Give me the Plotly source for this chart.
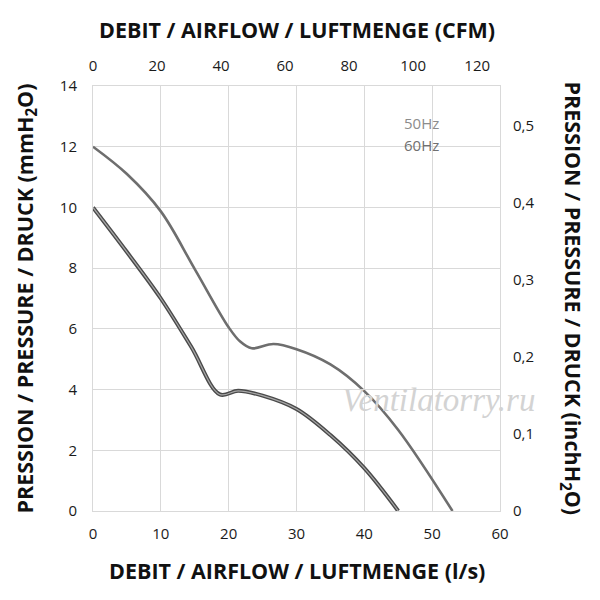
import plotly.graph_objects as go

# airflow in l/s, pressure in mmH2O
flow_50hz = [0, 5, 10, 14.5, 18.7, 21.4, 25, 30, 35, 40, 45]
pres_50hz = [10, 8.53, 7.0, 5.4, 3.84, 3.96, 3.8, 3.36, 2.5, 1.41, 0]

flow_60hz = [0, 5, 10, 15, 20, 21.7, 23.4, 26.6, 30, 35, 40, 45, 53]
pres_60hz = [12, 11.1, 9.87, 7.97, 6.05, 5.58, 5.36, 5.5, 5.33, 4.83, 3.95, 2.67, 0]

flow_ticks = [0, 10, 20, 30, 40, 50, 60]
cfm_ticks = [0, 20, 40, 60, 80, 100, 120]
mm_ticks = [0, 2, 4, 6, 8, 10, 12, 14]
inch_ticks = [0, 0.1, 0.2, 0.3, 0.4, 0.5]

LS_TO_CFM = 2.11888
MM_TO_INCH = 1 / 25.4
X_MAX = 60
Y_MAX = 14

GRID = "#d9d9d9"
TICKFONT = dict(family="Open Sans", size=15, color="#1a1a1a")
TITLEFONT = dict(family="Open Sans", size=21.5, color="#111111")

fig = go.Figure()

# 60Hz curve, single grey line
fig.add_trace(go.Scatter(x=flow_60hz, y=pres_60hz, mode="lines",
                         line=dict(color="#6e6e6e", width=2.6, shape="spline", smoothing=1),
                         hoverinfo="skip"))
# 50Hz curve, drawn as a dark outline with a lighter core
fig.add_trace(go.Scatter(x=flow_50hz, y=pres_50hz, mode="lines",
                         line=dict(color="#4a4a4a", width=4, shape="spline", smoothing=1),
                         hoverinfo="skip"))
fig.add_trace(go.Scatter(x=flow_50hz, y=pres_50hz, mode="lines",
                         line=dict(color="#a8a8a8", width=1.2, shape="spline", smoothing=1),
                         hoverinfo="skip"))

axis_common = dict(showgrid=True, gridcolor=GRID, gridwidth=1, zeroline=False,
                   showline=True, linecolor=GRID, linewidth=1, ticks="",
                   tickfont=TICKFONT)

fig.update_layout(
    width=600, height=600,
    margin=dict(l=85, r=108, t=78, b=97),
    paper_bgcolor="white", plot_bgcolor="white",
    showlegend=False,
    separators=", ",
    xaxis=dict(range=[0, X_MAX], tickvals=flow_ticks, mirror=True, ticklabelstandoff=9, **axis_common),
    yaxis=dict(range=[0, Y_MAX], tickvals=mm_ticks, mirror=True, ticklabelstandoff=12, **axis_common),
    xaxis2=dict(range=[0, X_MAX * LS_TO_CFM], tickvals=cfm_ticks, overlaying="x", side="top",
                showgrid=False, zeroline=False, showline=False, ticks="", ticklabelstandoff=11,
                tickfont=TICKFONT),
    yaxis2=dict(range=[0, Y_MAX * MM_TO_INCH], tickvals=inch_ticks, overlaying="y", side="right",
                showgrid=False, zeroline=False, showline=False, ticks="", ticklabelstandoff=12,
                tickfont=TICKFONT),
)

# invisible trace so the secondary axes get drawn
fig.add_trace(go.Scatter(x=[v * LS_TO_CFM for v in flow_60hz], y=[v * MM_TO_INCH for v in pres_60hz],
                         xaxis="x2", yaxis="y2", mode="lines", opacity=0,
                         line=dict(width=0), hoverinfo="skip"))

fig.add_annotation(text="<b>DEBIT / AIRFLOW / LUFTMENGE (l/s)</b>", xref="paper", yref="paper",
                   x=0.5, y=-0.141, showarrow=False, font=TITLEFONT, xanchor="center", yanchor="middle")
fig.add_annotation(text="<b>DEBIT / AIRFLOW / LUFTMENGE (CFM)</b>", xref="paper", yref="paper",
                   x=0.5, y=1.132, showarrow=False, font=TITLEFONT, xanchor="center", yanchor="middle")
fig.add_annotation(text="<b>PRESSION / PRESSURE / DRUCK (mmH<sub>2</sub>O)</b>", xref="paper", yref="paper",
                   x=-0.167, y=0.5, showarrow=False, font=TITLEFONT, textangle=-90,
                   xanchor="center", yanchor="middle")
fig.add_annotation(text="<b>PRESSION / PRESSURE / DRUCK (inchH<sub>2</sub>O)</b>", xref="paper", yref="paper",
                   x=1.177, y=0.5, showarrow=False, font=TITLEFONT, textangle=90,
                   xanchor="center", yanchor="middle")

# series labels
fig.add_annotation(text="50Hz", xref="paper", yref="paper", x=0.808, y=0.913, showarrow=False,
                   xanchor="center", yanchor="middle",
                   font=dict(family="Open Sans", size=15, color="#8c8c8c"))
fig.add_annotation(text="60Hz", xref="paper", yref="paper", x=0.808, y=0.861, showarrow=False,
                   xanchor="center", yanchor="middle",
                   font=dict(family="Open Sans", size=15, color="#707070"))

# watermark
fig.add_annotation(text="<i>Ventilatorry.ru</i>", xref="paper", yref="paper", x=0.85, y=0.261,
                   showarrow=False, xanchor="center", yanchor="middle",
                   font=dict(family="Liberation Serif", size=33, color="#d3d3d3"))

fig.write_html("out.html")
